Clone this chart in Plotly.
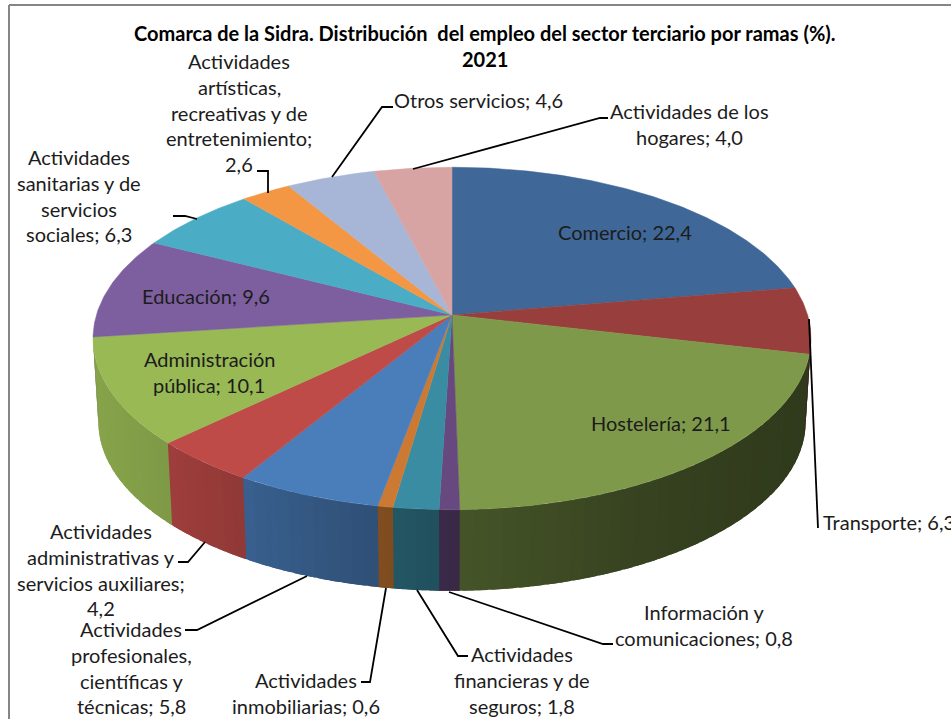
import numpy as np
import plotly.graph_objects as go

categories = ["Comercio", "Transporte", "Hostelería", "Información y comunicaciones",
              "Actividades financieras y de seguros", "Actividades inmobiliarias",
              "Actividades profesionales, científicas y técnicas",
              "Actividades administrativas y servicios auxiliares",
              "Administración pública", "Educación",
              "Actividades sanitarias y de servicios sociales",
              "Actividades artísticas, recreativas y de entretenimiento",
              "Otros servicios", "Actividades de los hogares"]
values = [22.4, 6.3, 21.1, 0.8, 1.8, 0.6, 5.8, 4.2, 10.1, 9.6, 6.3, 2.6, 4.6, 4.0]
colors = ["#3F6797", "#983F3D", "#7E994A", "#67497F", "#3A8CA2", "#CC7A33", "#4A7EBB",
          "#BE4B48", "#98B954", "#7D5FA0", "#4AACC5", "#F49744", "#A7B6D6", "#D7A4A3"]

title_lines = ["Comarca de la Sidra. Distribución  del empleo del sector terciario por ramas (%).", "2021"]

# label layout: (lines, centre x, first-line y)
LABELS = [
    (["Comercio; 22,4"], 625, 232),
    (["Hostelería; 21,1"], 661, 423),
    (["Información y", "comunicaciones; 0,8"], 704, 612),
    (["Actividades", "financieras y de", "seguros; 1,8"], 522, 654),
    (["Actividades", "inmobiliarias; 0,6"], 306, 680),
    (["Actividades", "profesionales,", "científicas y", "técnicas; 5,8"], 131, 629),
    (["Actividades", "administrativas y", "servicios auxiliares;", "4,2"], 101, 531),
    (["Administración", "pública; 10,1"], 209, 359),
    (["Educación; 9,6"], 206, 296),
    (["Actividades", "sanitarias y de", "servicios", "sociales; 6,3"], 79, 157),
    (["Actividades", "artísticas,", "recreativas y de", "entretenimiento;", "2,6"], 239, 61),
    (["Otros servicios; 4,6"], 478, 100),
    (["Actividades de los", "hogares; 4,0"], 689, 111),
]
LEADERS = [
    [(332, 177), (382, 107), (393, 107)],
    [(413, 169), (600, 118), (608, 118)],
    [(268, 193), (268, 171), (257, 171)],
    [(197, 219), (185, 216), (173, 216)],
    [(809, 319), (818, 528)],
    [(205, 542), (188, 562), (178, 562)],
    [(307, 576), (197, 630), (185, 630)],
    [(386, 588), (370, 682), (361, 682)],
    [(417, 590), (458, 656), (468, 656)],
    [(449, 592), (603, 644), (613, 644)],
]

CX, CY_TOP, CY_BOT = 452, 315, 399
RX, RY, K, S_BOT = 355.6, 168, 0.137, 0.985
FONT = "Lato"
TEXT_SIZE = 20


def project(theta_deg, bottom=False):
    t = np.radians(theta_deg)
    u, v = np.sin(t), np.cos(t)
    w = 1 + K * v
    s = S_BOT if bottom else 1.0
    cy = CY_BOT if bottom else CY_TOP
    return CX + s * RX * u / w, cy - s * RY * v / w


def shade(hex_color, f):
    rgb = [int(hex_color[i:i + 2], 16) for i in (1, 3, 5)]
    return "rgb(%d,%d,%d)" % tuple(round(c * f) for c in rgb)


def wall_factor(x):
    return float(np.interp(x, [100, 170, 240, 380, 460, 650, 800],
                           [0.88, 0.83, 0.76, 0.63, 0.55, 0.43, 0.38]))


edges = np.concatenate([[0], np.cumsum(values)]) / sum(values) * 360
fig = go.Figure()

# side wall: shaded strips, each overlapped by the next so no seams show
WALL_START, WALL_END, STEP, OVER = 97, 263.2, 2.0, 1.5
for i, col in enumerate(colors):
    a0, a1 = max(edges[i], WALL_START), min(edges[i + 1], WALL_END)
    if a1 <= a0:
        continue
    n = max(1, int(np.ceil((a1 - a0) / STEP)))
    br = np.linspace(a0, a1, n + 1)
    for b0, b1 in zip(br[:-1], br[1:]):
        th = np.linspace(b0, min(b1 + OVER, WALL_END), 5)
        xt, yt = project(th)
        xb, yb = project(th[::-1], bottom=True)
        xm0, _ = project(np.array([(b0 + b1) / 2]))
        c = shade(col, wall_factor(xm0[0]))
        fig.add_trace(go.Scatter(x=np.r_[xt, xb, xt[0]], y=np.r_[yt, yb, yt[0]], mode="none",
                                 fill="toself", fillcolor=c,
                                 hoverinfo="skip", showlegend=False))

# top face
for i, col in enumerate(colors):
    th = np.linspace(edges[i], edges[i + 1], max(3, int(values[i] * 6)))
    x, y = project(th)
    fig.add_trace(go.Scatter(x=np.r_[CX, x, CX], y=np.r_[CY_TOP, y, CY_TOP], mode="lines",
                             fill="toself", fillcolor=col, line=dict(color=col, width=0.5),
                             name=categories[i], text="%s; %s" % (categories[i], str(values[i]).replace(".", ",")),
                             hoverinfo="text", showlegend=False))

# leader lines
for pts in LEADERS:
    fig.add_trace(go.Scatter(x=[p[0] for p in pts], y=[p[1] for p in pts], mode="lines",
                             line=dict(color="#000000", width=1.8), hoverinfo="skip", showlegend=False))

LINE_H = 25.8
ann = []
for lines, xc, y0 in LABELS:
    for j, t in enumerate(lines):
        ann.append(dict(x=xc, y=y0 + j * LINE_H, text=t, showarrow=False, xanchor="center", yanchor="middle",
                        font=dict(family=FONT, size=TEXT_SIZE, color="#1c1c1c")))
ann.append(dict(x=821, y=522, text="Transporte; 6,3", showarrow=False, xanchor="left", yanchor="middle",
                font=dict(family=FONT, size=TEXT_SIZE, color="#1c1c1c")))
for y, t in zip([33, 59], title_lines):
    ann.append(dict(x=485, y=y, text="<b>%s</b>" % t, showarrow=False, xanchor="center", yanchor="middle",
                    font=dict(family=FONT, size=TEXT_SIZE, color="#000000")))

fig.update_layout(
    width=951, height=719, margin=dict(l=0, r=0, t=0, b=0),
    paper_bgcolor="white", plot_bgcolor="white", annotations=ann,
    xaxis=dict(range=[0, 951], visible=False, fixedrange=True),
    yaxis=dict(range=[719, 0], visible=False, fixedrange=True),
    shapes=[dict(type="line", x0=9, x1=9, y0=5, y1=719, line=dict(color="#868686", width=2)),
            dict(type="line", x0=9, x1=951, y0=5, y1=5, line=dict(color="#868686", width=2))],
)
fig.write_html("out.html", config=dict(displayModeBar=False),
               post_script="document.body.style.margin='0';document.body.style.overflow='hidden';")
